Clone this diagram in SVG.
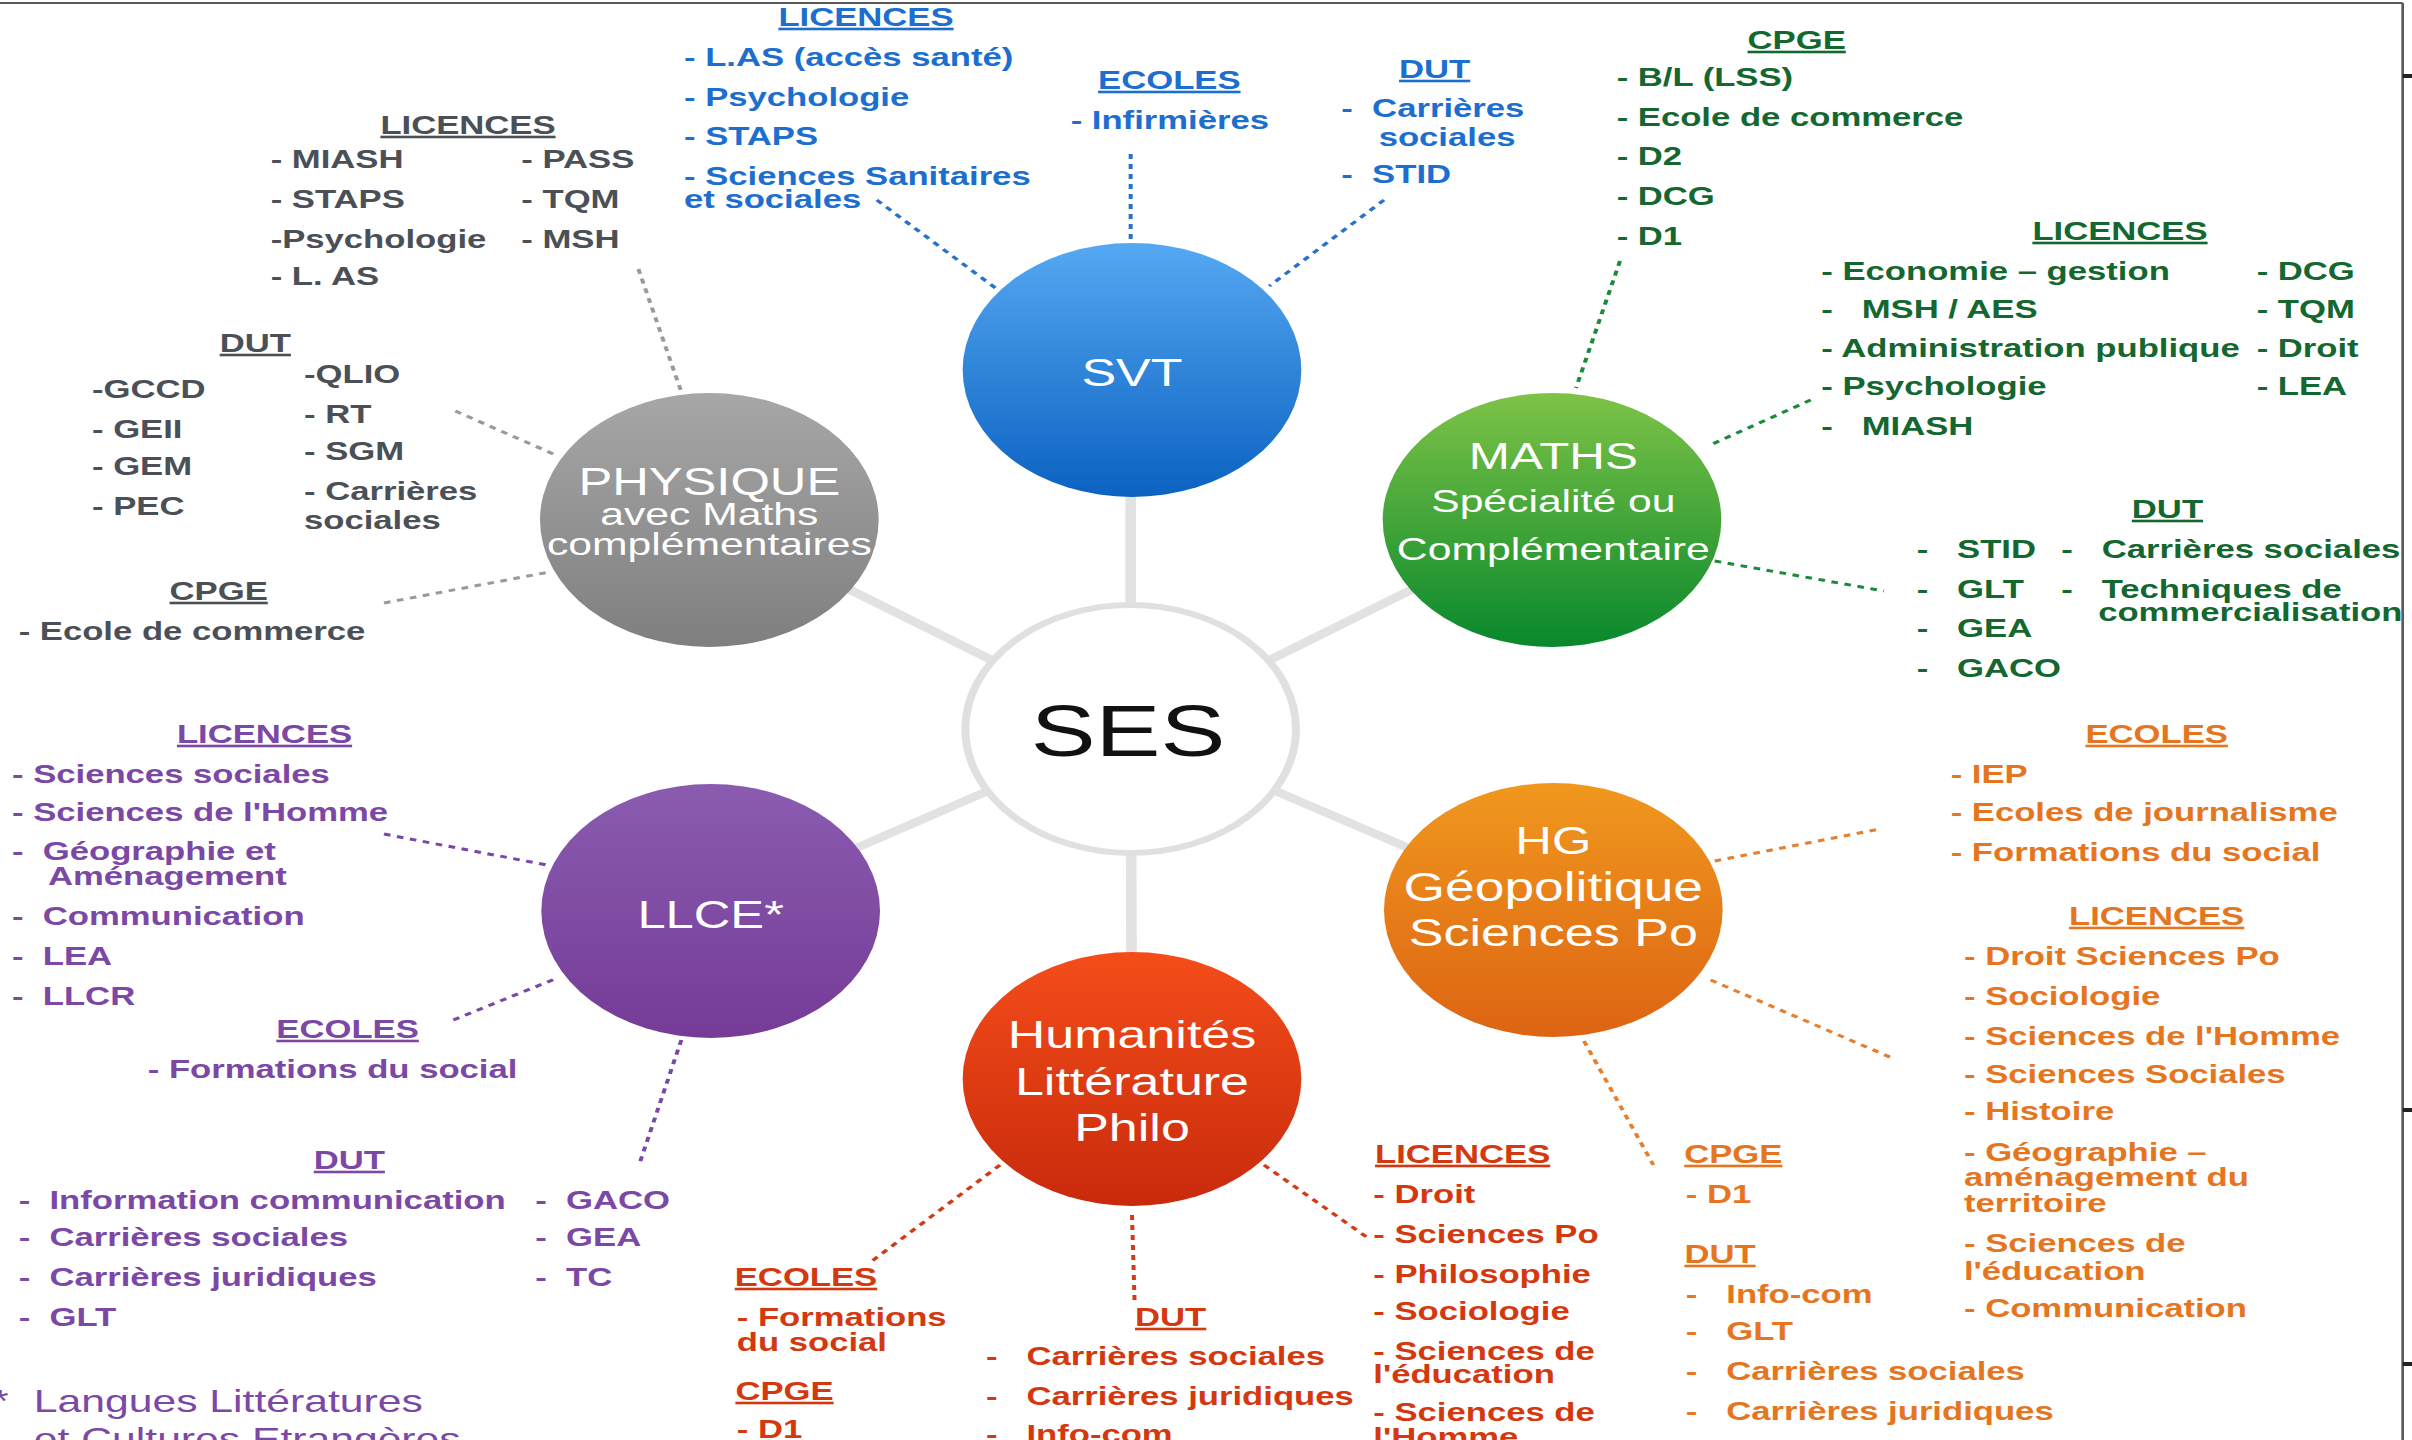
<svg xmlns="http://www.w3.org/2000/svg" width="2412" height="1440" viewBox="0 0 2412 1440" xml:space="preserve">
<defs>
<style>
.t{font-family:"Liberation Sans",Arial,Helvetica,sans-serif;font-weight:bold;font-size:26px;white-space:pre}
.t text{white-space:pre}
.h{text-anchor:middle;text-decoration:underline}
.nt{font-family:"Liberation Sans",Arial,Helvetica,sans-serif;fill:#ffffff;text-anchor:middle;font-size:39px}
.ns{font-size:32px}
.gr{fill:#4b5057}.bl{fill:#1c6ecf}.gn{fill:#13672f}.pu{fill:#7b48a6}.or{fill:#e5761f}.rd{fill:#d4380f}
.c{fill:none;stroke-width:3;stroke-dasharray:5 5}
.cgr{stroke:#9a9a9a}.cbl{stroke:#2a72c8}.cgn{stroke:#1b8a3a}.cpu{stroke:#7b48a6}.cor{stroke:#e58030}.crd{stroke:#d43a14}
.spoke{stroke:#e2e2e2;stroke-width:8}
</style>
<linearGradient id="gSVT" x1="0" y1="0" x2="0" y2="1"><stop offset="0" stop-color="#55a8f2"/><stop offset="1" stop-color="#0b62c1"/></linearGradient>
<linearGradient id="gPHY" x1="0" y1="0" x2="0" y2="1"><stop offset="0" stop-color="#a6a7a6"/><stop offset="1" stop-color="#7e7f7e"/></linearGradient>
<linearGradient id="gMAT" x1="0" y1="0" x2="0" y2="1"><stop offset="0" stop-color="#7ec347"/><stop offset="1" stop-color="#08882c"/></linearGradient>
<linearGradient id="gLLC" x1="0" y1="0" x2="0" y2="1"><stop offset="0" stop-color="#8a5cb0"/><stop offset="1" stop-color="#753b97"/></linearGradient>
<linearGradient id="gHG" x1="0" y1="0" x2="0" y2="1"><stop offset="0" stop-color="#f0981e"/><stop offset="1" stop-color="#dd6413"/></linearGradient>
<linearGradient id="gHUM" x1="0" y1="0" x2="0" y2="1"><stop offset="0" stop-color="#f44d1a"/><stop offset="1" stop-color="#c92a0c"/></linearGradient>
</defs>
<rect x="0" y="0" width="2412" height="1440" fill="#ffffff"/>
<g transform="scale(1.3333333 1)">
<g id="frame" fill="none" stroke="#5a5a5a" stroke-width="2">
<line x1="0" y1="3" x2="1802" y2="3"/>
<line x1="1802" y1="3" x2="1802" y2="1440"/>
<line x1="1802" y1="76" x2="1809" y2="76" stroke="#222" stroke-width="4"/>
<line x1="1802" y1="1110" x2="1809" y2="1110" stroke="#222" stroke-width="4"/>
<line x1="1802" y1="1364" x2="1809" y2="1364" stroke="#222" stroke-width="4"/>
</g>
<g id="spokes">
<line class="spoke" x1="848" y1="729" x2="848" y2="370"/>
<line class="spoke" x1="848" y1="729" x2="532" y2="520"/>
<line class="spoke" x1="848" y1="729" x2="1164" y2="520"/>
<line class="spoke" x1="848" y1="729" x2="533" y2="911"/>
<line class="spoke" x1="848" y1="729" x2="1165" y2="910"/>
<line class="spoke" x1="848" y1="729" x2="849" y2="1079"/>
</g>
<g id="connectors">
<line class="c cgr" x1="478.8" y1="269" x2="511" y2="392"/>
<line class="c cgr" x1="341.5" y1="411" x2="415" y2="454"/>
<line class="c cgr" x1="288" y1="603" x2="412" y2="572"/>
<line class="c cbl" x1="657.6" y1="200" x2="747.6" y2="289"/>
<line class="c cbl" x1="848" y1="154" x2="848" y2="241"/>
<line class="c cbl" x1="1038" y1="200" x2="952" y2="286"/>
<line class="c cgn" x1="1215" y1="261" x2="1182" y2="388"/>
<line class="c cgn" x1="1358" y1="400" x2="1281" y2="446"/>
<line class="c cgn" x1="1286" y1="561" x2="1413" y2="591"/>
<line class="c cpu" x1="288" y1="834" x2="410" y2="865"/>
<line class="c cpu" x1="340" y1="1020" x2="418" y2="978"/>
<line class="c cpu" x1="511" y1="1040" x2="479" y2="1166"/>
<line class="c cor" x1="1286" y1="861" x2="1410" y2="829"/>
<line class="c cor" x1="1283" y1="980" x2="1419" y2="1058"/>
<line class="c cor" x1="1188" y1="1041" x2="1240" y2="1165"/>
<line class="c crd" x1="750" y1="1165" x2="654" y2="1261"/>
<line class="c crd" x1="849" y1="1215" x2="851" y2="1305"/>
<line class="c crd" x1="948" y1="1165" x2="1026" y2="1238"/>
</g>
<g id="node-ses">
<circle cx="848" cy="729" r="124" fill="#ffffff" stroke="#e0e0e0" stroke-width="6"/>
<text x="846" y="756" font-family="Liberation Sans,Arial,sans-serif" font-size="73" text-anchor="middle" fill="#111111">SES</text>
</g>
<g id="node-svt">
<circle cx="849" cy="370" r="127" fill="url(#gSVT)"/>
<text class="nt" x="849" y="386" font-size="43">SVT</text>
</g>
<g id="node-physique">
<circle cx="532" cy="520" r="127" fill="url(#gPHY)"/>
<text class="nt" x="532" y="495" style="font-size:38px">PHYSIQUE</text>
<text class="nt ns" x="532" y="525">avec Maths</text>
<text class="nt ns" x="532" y="555">complémentaires</text>
</g>
<g id="node-maths">
<circle cx="1164" cy="520" r="127" fill="url(#gMAT)"/>
<text class="nt" x="1165" y="469" style="font-size:37px">MATHS</text>
<text class="nt ns" x="1165" y="512">Spécialité ou</text>
<text class="nt ns" x="1165" y="560">Complémentaire</text>
</g>
<g id="node-llce">
<circle cx="533" cy="911" r="127" fill="url(#gLLC)"/>
<text class="nt" x="533" y="928" style="font-size:38px">LLCE*</text>
</g>
<g id="node-hg">
<circle cx="1165" cy="910" r="127" fill="url(#gHG)"/>
<text class="nt" x="1165" y="854" style="font-size:38px">HG</text>
<text class="nt" x="1165" y="901" style="font-size:40px">Géopolitique</text>
<text class="nt" x="1165" y="946">Sciences Po</text>
</g>
<g id="node-humanites">
<circle cx="849" cy="1079" r="127" fill="url(#gHUM)"/>
<text class="nt" x="849" y="1048">Humanités</text>
<text class="nt" x="849" y="1095">Littérature</text>
<text class="nt" x="849" y="1141">Philo</text>
</g>
<g id="labels-physique" class="t gr">
<text class="h" x="351" y="134">LICENCES</text>
<text x="203" y="168">- MIASH</text>
<text x="391" y="168">- PASS</text>
<text x="203" y="208">- STAPS</text>
<text x="391" y="208">- TQM</text>
<text x="203" y="248">-Psychologie</text>
<text x="391" y="248">- MSH</text>
<text x="203" y="285">- L. AS</text>
<text class="h" x="191.5" y="352">DUT</text>
<text x="69" y="398">-GCCD</text>
<text x="69" y="438">- GEII</text>
<text x="69" y="475">- GEM</text>
<text x="69" y="515">- PEC</text>
<text x="228" y="383">-QLIO</text>
<text x="228" y="423">- RT</text>
<text x="228" y="460">- SGM</text>
<text x="228" y="500">- Carrières</text>
<text x="228" y="529">sociales</text>
<text class="h" x="164" y="600">CPGE</text>
<text x="14" y="640">- Ecole de commerce</text>
</g>
<g id="labels-svt" class="t bl">
<text class="h" x="649.5" y="26">LICENCES</text>
<text x="513" y="66">- L.AS (accès santé)</text>
<text x="513" y="106">- Psychologie</text>
<text x="513" y="145">- STAPS</text>
<text x="513" y="185">- Sciences Sanitaires</text>
<text x="513" y="208">et sociales</text>
<text class="h" x="877" y="89">ECOLES</text>
<text x="803" y="129">- Infirmières</text>
<text class="h" x="1076" y="78">DUT</text>
<text x="1006" y="117">-  Carrières</text>
<text x="1034" y="146">sociales</text>
<text x="1006" y="183">-  STID</text>
</g>
<g id="labels-maths" class="t gn">
<text class="h" x="1347.5" y="49">CPGE</text>
<text x="1212.5" y="86">- B/L (LSS)</text>
<text x="1212.5" y="126">- Ecole de commerce</text>
<text x="1212.5" y="165">- D2</text>
<text x="1212.5" y="205">- DCG</text>
<text x="1212.5" y="245">- D1</text>
<text class="h" x="1590" y="240">LICENCES</text>
<text x="1366" y="280">- Economie – gestion</text>
<text x="1366" y="318">-   MSH / AES</text>
<text x="1366" y="357">- Administration publique</text>
<text x="1366" y="395">- Psychologie</text>
<text x="1366" y="435">-   MIASH</text>
<text x="1692.5" y="280">- DCG</text>
<text x="1692.5" y="318">- TQM</text>
<text x="1692.5" y="357">- Droit</text>
<text x="1692.5" y="395">- LEA</text>
<text class="h" x="1625.6" y="518">DUT</text>
<text x="1437.5" y="558">-   STID</text>
<text x="1437.5" y="598">-   GLT</text>
<text x="1437.5" y="637">-   GEA</text>
<text x="1437.5" y="677">-   GACO</text>
<text x="1546" y="558">-   Carrières sociales</text>
<text x="1546" y="598">-   Techniques de</text>
<text x="1573.6" y="621">commercialisation</text>
</g>
<g id="labels-llce" class="t pu">
<text class="h" x="198.4" y="743">LICENCES</text>
<text x="9" y="783">- Sciences sociales</text>
<text x="9" y="821">- Sciences de l'Homme</text>
<text x="9" y="860">-  Géographie et</text>
<text x="36" y="885">Aménagement</text>
<text x="9" y="925">-  Communication</text>
<text x="9" y="965">-  LEA</text>
<text x="9" y="1005">-  LLCR</text>
<text class="h" x="260.7" y="1038">ECOLES</text>
<text x="110.8" y="1078">- Formations du social</text>
<text class="h" x="262" y="1169">DUT</text>
<text x="14" y="1209">-  Information communication</text>
<text x="14" y="1246">-  Carrières sociales</text>
<text x="14" y="1286">-  Carrières juridiques</text>
<text x="14" y="1326">-  GLT</text>
<text x="401.5" y="1209">-  GACO</text>
<text x="401.5" y="1246">-  GEA</text>
<text x="401.5" y="1286">-  TC</text>
<text x="-6" y="1412" style="font-weight:normal;font-size:32px">*</text>
<text x="25.4" y="1412" style="font-weight:normal;font-size:32px">Langues Littératures</text>
<text x="25.4" y="1450" style="font-weight:normal;font-size:32px">et Cultures Etrangères</text>
</g>
<g id="labels-hg" class="t or">
<text class="h" x="1617.5" y="743">ECOLES</text>
<text x="1463" y="783">- IEP</text>
<text x="1463" y="821">- Ecoles de journalisme</text>
<text x="1463" y="861">- Formations du social</text>
<text class="h" x="1617.5" y="925">LICENCES</text>
<text x="1473" y="965">- Droit Sciences Po</text>
<text x="1473" y="1005">- Sociologie</text>
<text x="1473" y="1045">- Sciences de l'Homme</text>
<text x="1473" y="1083">- Sciences Sociales</text>
<text x="1473" y="1120">- Histoire</text>
<text x="1473" y="1161">- Géographie –</text>
<text x="1473" y="1186">aménagement du</text>
<text x="1473" y="1212">territoire</text>
<text x="1473" y="1252">- Sciences de</text>
<text x="1473" y="1280">l'éducation</text>
<text x="1473" y="1317">- Communication</text>
<text class="h" x="1300" y="1163">CPGE</text>
<text x="1264.4" y="1203">- D1</text>
<text class="h" x="1290" y="1263">DUT</text>
<text x="1264.4" y="1303">-   Info-com</text>
<text x="1264.4" y="1340">-   GLT</text>
<text x="1264.4" y="1380">-   Carrières sociales</text>
<text x="1264.4" y="1420">-   Carrières juridiques</text>
</g>
<g id="labels-humanites" class="t rd">
<text class="h" x="604.5" y="1286">ECOLES</text>
<text x="552.6" y="1326">- Formations</text>
<text x="552.6" y="1351">du social</text>
<text class="h" x="588.4" y="1400">CPGE</text>
<text x="552.6" y="1438">- D1</text>
<text class="h" x="878" y="1326">DUT</text>
<text x="739.5" y="1365">-   Carrières sociales</text>
<text x="739.5" y="1405">-   Carrières juridiques</text>
<text x="739.5" y="1443">-   Info-com</text>
<text class="h" x="1097" y="1163">LICENCES</text>
<text x="1030" y="1203">- Droit</text>
<text x="1030" y="1243">- Sciences Po</text>
<text x="1030" y="1283">- Philosophie</text>
<text x="1030" y="1320">- Sociologie</text>
<text x="1030" y="1360">- Sciences de</text>
<text x="1030" y="1383">l'éducation</text>
<text x="1030" y="1421">- Sciences de</text>
<text x="1030" y="1446">l'Homme</text>
</g>
</g>
</svg>
